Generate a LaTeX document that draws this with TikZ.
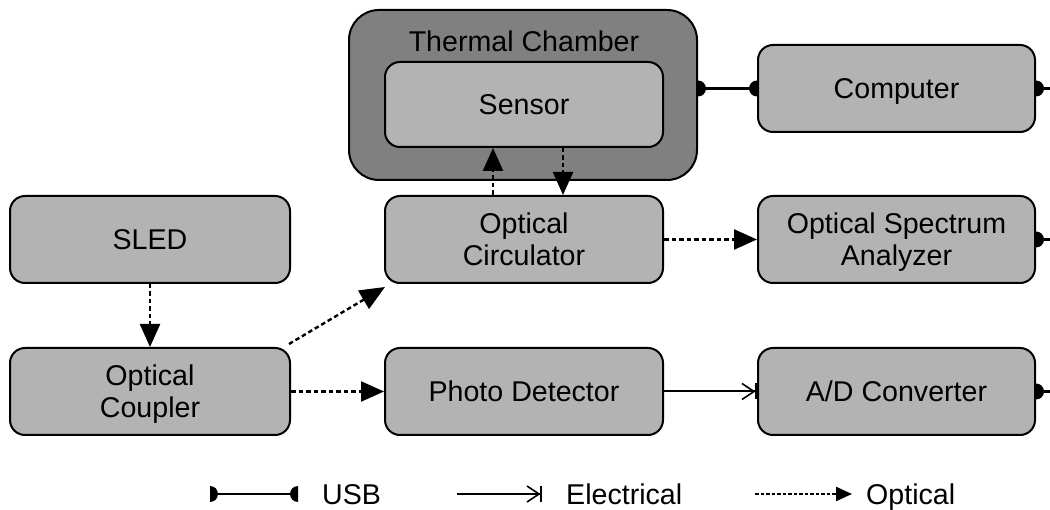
\documentclass[tikz,border=0pt]{standalone}
\usepackage{fontspec}
\setmainfont{Liberation Sans}
\usetikzlibrary{arrows.meta}
\definecolor{boxgray}{HTML}{B3B3B3}
\definecolor{chambergray}{HTML}{808080}
\newcommand\hdR[1]{\fill (#1) ++(0pt,8pt) arc[start angle=90,end angle=-90,radius=8pt] -- cycle;}
\newcommand\hdL[1]{\fill (#1) ++(0pt,8pt) arc[start angle=90,end angle=270,radius=8pt] -- cycle;}
\newcommand\ls{\rule[-6pt]{0pt}{32pt}}
\tikzset{
  box/.style={draw, line width=2pt, fill=boxgray, rounded corners=15pt,
    minimum width=278pt, minimum height=87pt, align=center, inner sep=0pt,
    font=\fontsize{28.6}{32}\selectfont},
  lbl/.style={inner sep=0pt, font=\fontsize{28.6}{32}\selectfont},
  usb/.style={line width=2.2pt},
  elec/.style={line width=2pt, -{Straight Barb[length=12pt,width=16pt,line width=1.6pt]Bar[width=16pt,line width=1.6pt]}},
  optical/.style={line width=2.4pt, dash pattern=on 4.5pt off 3pt, -{Triangle[length=23pt,width=20pt]}},
  opticalsmall/.style={line width=2.4pt, dash pattern=on 3.5pt off 2pt, -{Triangle[length=16pt,width=14pt]}},
}
\begin{document}
\begin{tikzpicture}[x=1pt,y=-1pt]
\useasboundingbox (0,0) rectangle (1050,510);
% thermal chamber
\node[draw, line width=2pt, fill=chambergray, rounded corners=30pt, minimum width=348pt, minimum height=170pt, inner sep=0pt] (chamber) at (523,95) {};
\node[lbl, anchor=base] (chambertxt) at (524,52) {Thermal Chamber};
\node[box, minimum height=85pt] (sensor) at (524,104.5) {Sensor\ls};
\node[box, minimum width=277pt] (comp) at (896.5,88.5) {Computer\ls};
\node[box, minimum width=280pt] (sled) at (150,239.5) {SLED\ls};
\node[box] (circ) at (524,239.5) {Optical\ls\\Circulator\ls};
\node[box, minimum width=277pt] (osa) at (896.5,239.5) {Optical Spectrum\ls\\Analyzer\ls};
\node[box, minimum width=280pt] (coup) at (150,391.5) {Optical\ls\\Coupler\ls};
\node[box] (pd) at (524,391.5) {Photo Detector\ls};
\node[box, minimum width=277pt] (ad) at (896.5,391.5) {A/D Converter\ls};
\coordinate (edge) at (1050,0);
% USB
\coordinate (ce) at (chamber.east |- comp.west);
\draw[usb] (ce) -- (comp.west);
\hdR{ce} \hdL{comp.west}
\draw[usb] (comp.east) -- (comp.east -| edge);
\hdR{comp.east}
\draw[usb] (osa.east) -- (osa.east -| edge);
\hdR{osa.east}
\draw[usb] (ad.east) -- (ad.east -| edge);
\hdR{ad.east}
% electrical
\draw[elec] (pd.east) -- (ad.west);
% optical
\draw[optical] (sled.south) -- (coup.north);
\draw[optical, -{Triangle[length=25pt,width=21pt]}] ([xshift=-2pt,yshift=3pt]coup.north east) -- ([xshift=1pt,yshift=-3pt]circ.south west);
\draw[optical] (coup.east) -- (pd.west);
\draw[optical] ([xshift=-31pt]circ.north) -- ([xshift=-31pt]sensor.south);
\draw[optical] ([xshift=39pt]sensor.south) -- ([xshift=39pt]circ.north);
\draw[optical] (circ.east) -- (osa.west);
% legend
\coordinate (u1) at (210,494);
\coordinate (u2) at (298,494);
\draw[usb] (u1) -- (u2);
\hdR{u1} \hdL{u2}
\node[lbl, anchor=base west] (usbtxt) at (322,504.5) {USB};
\coordinate (e1) at (457,494);
\coordinate (e2) at (542,494);
\draw[elec] (e1) -- (e2);
\node[lbl, anchor=base west] (electxt) at (566,504.5) {Electrical};
\coordinate (o1) at (755,494);
\coordinate (o2) at (852,494);
\draw[opticalsmall] (o1) -- (o2);
\node[lbl, anchor=base west] (opttxt) at (866,504.5) {Optical};
\end{tikzpicture}
\end{document}
